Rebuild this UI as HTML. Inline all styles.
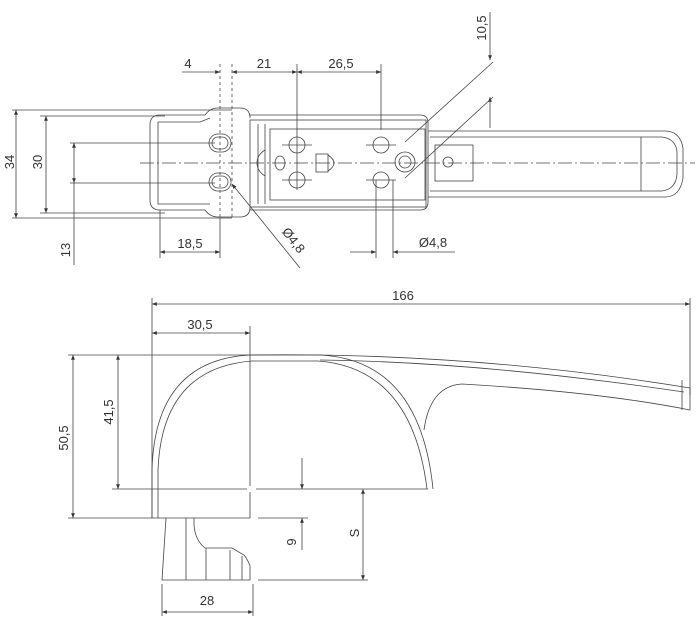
<!DOCTYPE html>
<html><head><meta charset="utf-8"><style>
html,body{margin:0;padding:0;background:#fff;}
svg{display:block;}
text{font-family:"Liberation Sans",sans-serif;font-size:13px;fill:#333;}
</style></head><body>
<svg width="700" height="630" viewBox="0 0 700 630" xmlns="http://www.w3.org/2000/svg">
<defs>
<marker id="a" viewBox="0 0 10 10" refX="10" refY="5" markerWidth="9" markerHeight="6" orient="auto-start-reverse"><path d="M0,1 L10,5 L0,9 z" fill="#333"/></marker>
</defs>
<g stroke="#444" stroke-width="0.8" fill="none">
<line x1="140" y1="163" x2="695" y2="163" stroke-dasharray="14,3,2,3"/>
<line x1="12" y1="110" x2="232" y2="110"/>
<line x1="12" y1="218" x2="232" y2="218"/>
<line x1="40" y1="116" x2="165" y2="116"/>
<line x1="40" y1="213" x2="165" y2="213"/>
<line x1="70" y1="143" x2="215" y2="143"/>
<line x1="70" y1="183" x2="215" y2="183"/>
<line x1="74" y1="183" x2="74" y2="265"/>
<line x1="16" y1="110" x2="16" y2="218" marker-start="url(#a)" marker-end="url(#a)"/>
<line x1="46" y1="116" x2="46" y2="213" marker-start="url(#a)" marker-end="url(#a)"/>
<line x1="74" y1="143" x2="74" y2="183" marker-start="url(#a)" marker-end="url(#a)"/>
<path d="M160,115 H205 Q210,108 218,108 H240 Q250,108 250,118 V115 H420 Q428,115 428,123 V202 Q428,210 420,210 H250 V207 Q250,217 240,217 H218 Q210,217 205,210 H160 Q150,210 150,200 V125 Q150,115 160,115 Z"/>
<path d="M158,122 H200 Q205,120 210,118 M158,122 V204 H210"/>
<rect x="250" y="120" width="176" height="87"/>
<rect x="270" y="129" width="155" height="71"/>
<line x1="258" y1="124" x2="258" y2="204"/>
<line x1="265" y1="124" x2="265" y2="204"/>
<path d="M265,150 Q257,155 257,163 Q257,171 265,176"/>
<rect x="209" y="134" width="22" height="18" rx="9"/>
<rect x="212" y="137" width="16" height="12" rx="6"/>
<rect x="209" y="173" width="22" height="18" rx="9"/>
<rect x="212" y="176" width="16" height="12" rx="6"/>
<line x1="220" y1="64" x2="220" y2="218" stroke-dasharray="3,3"/>
<line x1="232" y1="64" x2="232" y2="218" stroke-dasharray="3,3"/>
<circle cx="297" cy="145" r="8"/><circle cx="297" cy="180" r="8"/>
<circle cx="381" cy="145" r="8"/><circle cx="381" cy="180" r="8"/>
<line x1="297" y1="64" x2="297" y2="190"/>
<line x1="381" y1="64" x2="381" y2="130"/>
<line x1="376" y1="180" x2="376" y2="258"/>
<line x1="393" y1="180" x2="393" y2="258"/>
<line x1="282" y1="145" x2="312" y2="145"/><line x1="282" y1="180" x2="312" y2="180"/>
<line x1="366" y1="145" x2="396" y2="145"/><line x1="366" y1="180" x2="396" y2="180"/>
<ellipse cx="280" cy="163" rx="5" ry="7"/>
<rect x="316" y="154" width="12" height="18"/><path d="M328,155 Q340,163 328,171"/>
<circle cx="405" cy="162" r="10"/><circle cx="405" cy="162" r="6"/>
<path d="M428,131 H665 Q680,131 683,148 V178 Q680,197 665,197 H428"/>
<path d="M430,137 H662 Q676,139 677,152 V174 Q676,189 662,191 H430"/>
<line x1="641" y1="137" x2="641" y2="191"/>
<rect x="435" y="145" width="38" height="36"/>
<circle cx="448" cy="162" r="5"/>
<line x1="182" y1="72" x2="220" y2="72" marker-end="url(#a)"/>
<line x1="232" y1="72" x2="297" y2="72" marker-start="url(#a)" marker-end="url(#a)"/>
<line x1="297" y1="72" x2="381" y2="72" marker-start="url(#a)" marker-end="url(#a)"/>
<line x1="160" y1="210" x2="160" y2="258"/>
<line x1="220" y1="218" x2="220" y2="258"/>
<line x1="160" y1="252" x2="220" y2="252" marker-start="url(#a)" marker-end="url(#a)"/>
<line x1="350" y1="252" x2="376" y2="252" marker-end="url(#a)"/>
<line x1="393" y1="252" x2="455" y2="252" marker-start="url(#a)"/>
<line x1="300" y1="268" x2="232" y2="184" marker-end="url(#a)"/>
<line x1="490" y1="12" x2="490" y2="60" marker-end="url(#a)"/>
<line x1="490" y1="97" x2="490" y2="128" marker-start="url(#a)"/>
<line x1="405" y1="142" x2="493" y2="62"/>
<line x1="405" y1="178" x2="493" y2="97"/>

<line x1="152" y1="298" x2="152" y2="518"/>
<line x1="250" y1="326" x2="250" y2="486"/>
<line x1="250" y1="492" x2="250" y2="518"/>
<line x1="690" y1="298" x2="690" y2="395"/>
<line x1="152" y1="304" x2="690" y2="304" marker-start="url(#a)" marker-end="url(#a)"/>
<line x1="152" y1="333" x2="250" y2="333" marker-start="url(#a)" marker-end="url(#a)"/>
<line x1="68" y1="355" x2="250" y2="355"/>
<line x1="73" y1="355" x2="73" y2="518" marker-start="url(#a)" marker-end="url(#a)"/>
<line x1="118" y1="355" x2="118" y2="489" marker-start="url(#a)" marker-end="url(#a)"/>
<line x1="112" y1="489" x2="247" y2="489"/>
<line x1="256" y1="489" x2="428" y2="489"/>
<line x1="68" y1="518" x2="250" y2="518"/>
<line x1="258" y1="518" x2="308" y2="518"/>
<path d="M152,518 V470 Q155,360 250,355 H320 Q420,360 433,489"/>
<path d="M158,518 V470 Q162,368 252,361 H318 Q412,368 427,489"/>
<path d="M250,355 Q470,352 690,388 V410 Q600,392 462,384 Q430,386 424,430"/>
<path d="M320,360 Q480,362 684,392"/>
<path d="M682,380 V410"/>
<path d="M166,518 L162,580 H250 V566 Q248,560 244,555 L232,548 H205 Q195,540 194,525 V518"/>
<line x1="186" y1="518" x2="186" y2="580"/>
<line x1="206" y1="548" x2="206" y2="580"/>
<line x1="230" y1="550" x2="230" y2="580"/>
<line x1="242" y1="556" x2="242" y2="580"/>
<line x1="258" y1="580" x2="368" y2="580"/>
<line x1="302" y1="458" x2="302" y2="489" marker-end="url(#a)"/>
<line x1="302" y1="518" x2="302" y2="550" marker-start="url(#a)"/>
<line x1="363" y1="489" x2="363" y2="580" marker-start="url(#a)" marker-end="url(#a)"/>
<line x1="162" y1="584" x2="162" y2="616"/>
<line x1="253" y1="584" x2="253" y2="616"/>
<line x1="162" y1="612" x2="253" y2="612" marker-start="url(#a)" marker-end="url(#a)"/>
</g>
<text x="188" y="68" text-anchor="middle">4</text>
<text x="264" y="68" text-anchor="middle">21</text>
<text x="341" y="68" text-anchor="middle">26,5</text>
<text x="190" y="248" text-anchor="middle">18,5</text>
<text x="433" y="247" text-anchor="middle">Ø4,8</text>
<text transform="translate(14,162) rotate(-90)" text-anchor="middle">34</text>
<text transform="translate(42,162) rotate(-90)" text-anchor="middle">30</text>
<text transform="translate(70,250) rotate(-90)" text-anchor="middle">13</text>
<text transform="translate(486,28) rotate(-90)" text-anchor="middle">10,5</text>
<text transform="translate(290,243) rotate(52)" text-anchor="middle">Ø4,8</text>
<text x="403" y="300" text-anchor="middle">166</text>
<text x="200" y="329" text-anchor="middle">30,5</text>
<text transform="translate(68,438) rotate(-90)" text-anchor="middle">50,5</text>
<text transform="translate(113,412) rotate(-90)" text-anchor="middle">41,5</text>
<text transform="translate(296,542) rotate(-90)" text-anchor="middle">9</text>
<text transform="translate(359,533) rotate(-90)" text-anchor="middle">S</text>
<text x="207" y="605" text-anchor="middle">28</text>
</svg>
</body></html>
